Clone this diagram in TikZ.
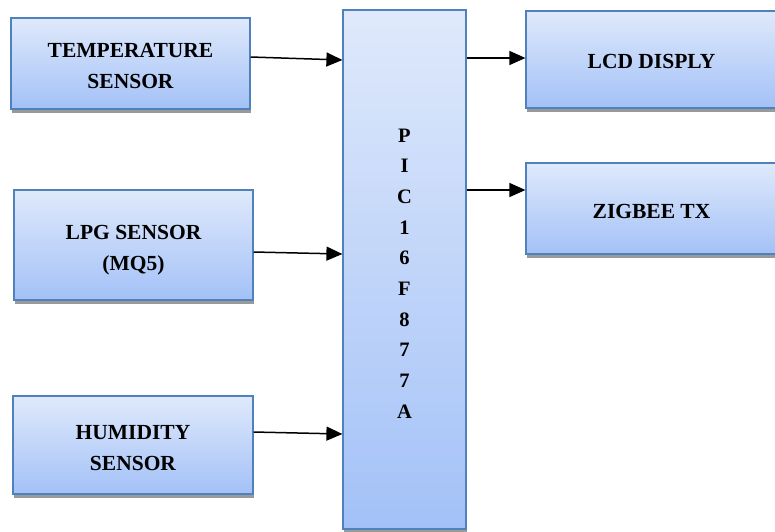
\documentclass[tikz,border=0pt]{standalone}
\usepackage{fontspec}
\setmainfont{Liberation Serif}
\usetikzlibrary{arrows.meta,shadows}
\definecolor{bordc}{HTML}{4F81BD}
\definecolor{topc}{HTML}{DFE9FB}
\definecolor{botc}{HTML}{A3C1F7}
\tikzset{
  blk/.style={draw=bordc, line width=1.2pt, top color=topc, bottom color=botc,
    inner sep=0pt, align=center, font=\bfseries\fontsize{21.5}{30.6}\selectfont,
    drop shadow={shadow xshift=1pt, shadow yshift=-3.5pt, fill=black!40, opacity=1}},
  arr/.style={line width=1.5pt, -{Triangle[length=16pt,width=14pt]}}
}
\begin{document}
\begin{tikzpicture}[x=1pt,y=-1pt]
\useasboundingbox (0,0) rectangle (775,531);
\node[blk, minimum width=239pt, minimum height=91pt, text height=49.6pt, text depth=0pt] (temp) at (130.5,63.5) {TEMPERATURE\\SENSOR};
\node[blk, minimum width=239pt, minimum height=110pt, text height=50pt, text depth=0pt] (lpg) at (133.5,245) {LPG SENSOR\\(MQ5)};
\node[blk, minimum width=240pt, minimum height=98pt, text height=50pt, text depth=0pt] (hum) at (133,445) {HUMIDITY\\SENSOR};
\node[blk, minimum width=123pt, minimum height=519pt, text height=297.6pt, text depth=0pt, font=\bfseries\fontsize{20.5}{30.7}\selectfont] (pic) at (404.5,269.5) {P\\I\\C\\1\\6\\F\\8\\7\\7\\A};
\node[blk, minimum width=251pt, minimum height=97pt, text height=17.6pt, text depth=0pt] (lcd) at (651.5,59.5) {LCD DISPLY};
\node[blk, minimum width=251pt, minimum height=91pt, text height=19.6pt, text depth=0pt] (zig) at (651.5,208.5) {ZIGBEE TX};
\draw[arr] ([yshift=6.5pt]temp.east) -- ([yshift=209.5pt]pic.west);
\draw[arr] ([yshift=-7pt]lpg.east) -- ([yshift=15.5pt]pic.west);
\draw[arr] ([yshift=13pt]hum.east) -- ([yshift=-164.5pt]pic.west);
\draw[arr] ([yshift=211.5pt]pic.east) -- ([yshift=1.5pt]lcd.west);
\draw[arr] ([yshift=79.5pt]pic.east) -- ([yshift=18.5pt]zig.west);
\end{tikzpicture}
\end{document}
